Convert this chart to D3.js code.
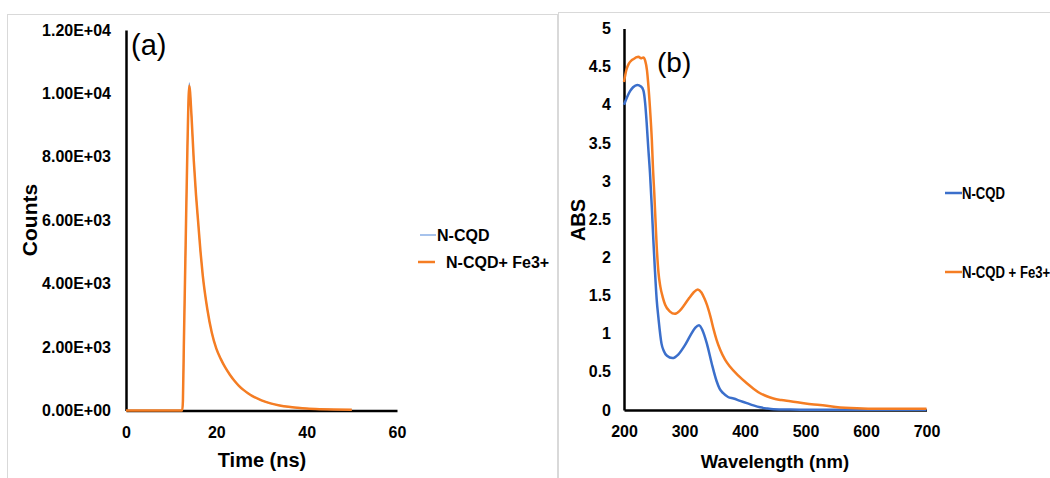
<!DOCTYPE html>
<html>
<head>
<meta charset="utf-8">
<script src="https://cdn.jsdelivr.net/npm/d3@7"></script>
<style>
  body { margin: 0; background: #fff; }
  svg { display: block; font-family: "Liberation Sans", Arial, sans-serif; }
  .tick text { font-weight: bold; font-size: 16px; fill: #000; }
</style>
</head>
<body>
<svg id="chart" width="1050" height="478"></svg>
<script>

// ---- panel (a): fluorescence decay ----
var decayTime = [0, 12.45, 12.6, 12.8, 13.2, 13.6, 14.0, 14.5, 15.0, 15.5, 16.0, 16.5, 17.0, 18.0, 19.0, 20.0, 21.0, 22.0, 23.0, 24.0, 25.0, 26.0, 27.0, 28.0, 30.0, 32.0, 34.0, 36.0, 38.0, 40.0, 43.0, 46.0, 50.0]
var countsNCQD = [0, 0, 300, 2000, 5200, 8300, 10330, 9300, 7900, 6800, 5900, 5000, 4250, 3200, 2450, 1950, 1620, 1350, 1130, 940, 780, 650, 545, 455, 320, 225, 160, 115, 85, 62, 42, 30, 22]
var countsFe = [0, 0, 300, 2000, 5200, 8300, 10240, 9300, 7900, 6800, 5900, 5000, 4250, 3200, 2450, 1950, 1620, 1350, 1130, 940, 780, 650, 545, 455, 320, 225, 160, 115, 85, 62, 42, 30, 22]
var timeTicks = [0, 20, 40, 60]
var countTicks = [0, 2000, 4000, 6000, 8000, 10000, 12000]

// ---- panel (b): UV-vis absorbance ----
var wlNCQD = [200, 205, 210, 215, 222, 228, 232, 235, 237.5, 240, 243, 246, 248.5, 251, 254, 257, 262, 266, 271, 280, 290, 300, 310, 318, 324, 330, 337, 345, 353, 358, 364, 372, 381, 392, 403, 414, 425, 436, 447, 475, 500, 600, 700]
var absNCQD = [4.00, 4.10, 4.18, 4.23, 4.26, 4.24, 4.19, 4.02, 3.76, 3.45, 3.10, 2.65, 2.23, 1.85, 1.45, 1.20, 0.87, 0.77, 0.71, 0.68, 0.73, 0.84, 0.98, 1.08, 1.11, 1.04, 0.87, 0.61, 0.38, 0.28, 0.22, 0.17, 0.15, 0.12, 0.09, 0.06, 0.035, 0.02, 0.01, 0.005, 0.003, 0.002, 0.002]
var wlFe = [200, 204, 208, 212, 216, 220, 224, 228, 232, 235, 238, 240, 243, 246, 248, 250, 254, 257, 260, 264, 268, 276, 284, 292, 300, 308, 315, 322, 328, 333, 337, 343, 348, 353, 359, 367, 375, 389, 403, 414, 425, 436, 447, 460, 475, 500, 524, 550, 585, 620, 660, 700]
var absFe = [4.30, 4.46, 4.54, 4.58, 4.60, 4.62, 4.63, 4.61, 4.62, 4.58, 4.45, 4.28, 3.95, 3.54, 3.15, 2.85, 2.15, 1.80, 1.62, 1.48, 1.38, 1.29, 1.26, 1.30, 1.38, 1.47, 1.54, 1.58, 1.54, 1.46, 1.38, 1.22, 1.06, 0.92, 0.79, 0.66, 0.57, 0.45, 0.35, 0.28, 0.22, 0.18, 0.15, 0.13, 0.115, 0.085, 0.065, 0.04, 0.022, 0.015, 0.015, 0.015]
var wlTicks = [200, 300, 400, 500, 600, 700]
var absTicks = [0, 0.5, 1, 1.5, 2, 2.5, 3, 3.5, 4, 4.5, 5]

var seriesNames = ["N-CQD", "N-CQD+ Fe3+", "N-CQD + Fe3+"]

var blue = "#3b6fcb", blueLight = "#6d9be0", orange = "#f57d23"

var svg = d3.select("#chart")

// panel frames
svg.append("rect").attr("x", 7.5).attr("y", 14.5).attr("width", 550).attr("height", 480)
  .style("fill", "none").style("stroke", "#d9d9d9").style("stroke-width", 1)
svg.append("rect").attr("x", 558.5).attr("y", 12.5).attr("width", 520).attr("height", 480)
  .style("fill", "none").style("stroke", "#d9d9d9").style("stroke-width", 1)

function sciFormat(v) {
  var s = v.toExponential(2).split("e")
  var exp = +s[1]
  return s[0] + "E" + (exp < 0 ? "-" : "+") + (Math.abs(exp) < 10 ? "0" : "") + Math.abs(exp)
}

function styleAxis(g) {
  g.select(".domain").style("stroke", "#000").style("stroke-width", 2.5)
  g.selectAll(".tick line").remove()
}

// ================= panel (a) =================
var xa = d3.scaleLinear().domain([0, 60]).range([126, 397])
var ya = d3.scaleLinear().domain([0, 12000]).range([410.5, 30])

var gxa = svg.append("g").attr("transform", "translate(0," + ya(0) + ")")
  .call(d3.axisBottom(xa).tickValues(timeTicks).tickSize(0).tickPadding(16).tickFormat(d3.format("d")))
styleAxis(gxa)

var gya = svg.append("g").attr("transform", "translate(" + xa(0) + ",0)")
  .call(d3.axisLeft(ya).tickValues(countTicks).tickSize(0).tickPadding(15).tickFormat(sciFormat))
styleAxis(gya)

var lineA = d3.line().x(function(d){ return xa(d[0]) }).y(function(d){ return ya(d[1]) }).curve(d3.curveMonotoneX)

svg.append("path").datum(d3.zip(decayTime, countsNCQD)).attr("d", lineA)
  .style("fill", "none").style("stroke", blueLight).style("stroke-width", 1.2)
svg.append("path").datum(d3.zip(decayTime, countsFe)).attr("d", lineA)
  .style("fill", "none").style("stroke", orange).style("stroke-width", 2.5)

svg.append("text").attr("x", 131).attr("y", 55).text("(a)")
  .style("font-size", "29px")

svg.append("text").attr("x", 262).attr("y", 467).attr("text-anchor", "middle")
  .text("Time (ns)").style("font-size", "20px").style("font-weight", "bold")

svg.append("text").attr("transform", "translate(37,220) rotate(-90)").attr("text-anchor", "middle")
  .text("Counts").style("font-size", "21px").style("font-weight", "bold")

// legend (a)
svg.append("line").attr("x1", 420).attr("x2", 436).attr("y1", 235).attr("y2", 235)
  .style("stroke", blueLight).style("stroke-width", 1.2)
svg.append("text").attr("x", 437).attr("y", 241).text(seriesNames[0])
  .style("font-size", "16px").style("font-weight", "bold")
svg.append("line").attr("x1", 418).attr("x2", 435).attr("y1", 262).attr("y2", 262)
  .style("stroke", orange).style("stroke-width", 2.5)
svg.append("text").attr("x", 446).attr("y", 268).text(seriesNames[1])
  .style("font-size", "16px").style("font-weight", "bold")

// ================= panel (b) =================
var xb = d3.scaleLinear().domain([200, 700]).range([624, 926.5])
var yb = d3.scaleLinear().domain([0, 5]).range([410, 28.5])

var gxb = svg.append("g").attr("transform", "translate(0," + yb(0) + ")")
  .call(d3.axisBottom(xb).tickValues(wlTicks).tickSize(0).tickPadding(16).tickFormat(d3.format("d")))
styleAxis(gxb)

var gyb = svg.append("g").attr("transform", "translate(" + xb(200) + ",0)")
  .call(d3.axisLeft(yb).tickValues(absTicks).tickSize(0).tickPadding(13).tickFormat(d3.format("")))
styleAxis(gyb)

var lineB = d3.line().x(function(d){ return xb(d[0]) }).y(function(d){ return yb(d[1]) }).curve(d3.curveMonotoneX)

svg.append("path").datum(d3.zip(wlNCQD, absNCQD)).attr("d", lineB)
  .style("fill", "none").style("stroke", blue).style("stroke-width", 2.5)
svg.append("path").datum(d3.zip(wlFe, absFe)).attr("d", lineB)
  .style("fill", "none").style("stroke", orange).style("stroke-width", 2.5)

svg.append("text").attr("x", 657).attr("y", 72).text("(b)")
  .style("font-size", "28px")

svg.append("text").attr("x", 775).attr("y", 468).attr("text-anchor", "middle")
  .text("Wavelength (nm)").style("font-size", "18.5px").style("font-weight", "bold")

svg.append("text").attr("transform", "translate(585,220) rotate(-90)").attr("text-anchor", "middle")
  .text("ABS").style("font-size", "20px").style("font-weight", "bold")

// legend (b)
svg.append("line").attr("x1", 945).attr("x2", 962).attr("y1", 193).attr("y2", 193)
  .style("stroke", blue).style("stroke-width", 2.5)
svg.append("text").attr("transform", "translate(962,199) scale(0.82,1)").text(seriesNames[0])
  .style("font-size", "16px").style("font-weight", "bold")
svg.append("line").attr("x1", 945).attr("x2", 962).attr("y1", 272).attr("y2", 272)
  .style("stroke", orange).style("stroke-width", 2.5)
svg.append("text").attr("transform", "translate(962,278) scale(0.82,1)").text(seriesNames[2])
  .style("font-size", "16px").style("font-weight", "bold")

</script>
</body>
</html>
